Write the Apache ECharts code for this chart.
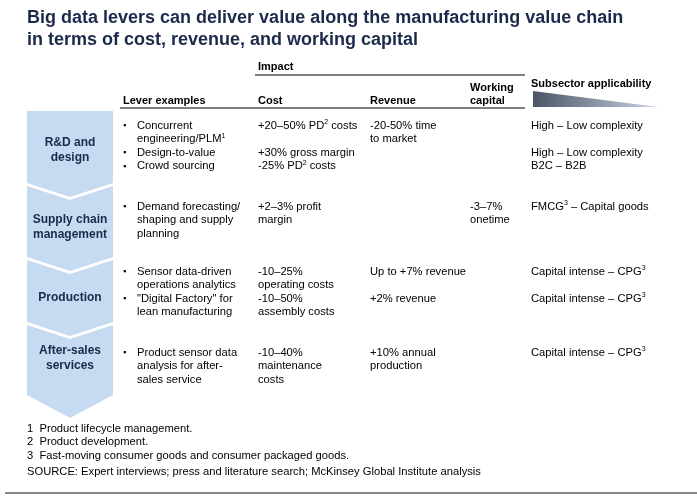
<!DOCTYPE html><html><head><meta charset="utf-8">
<script src="https://cdn.jsdelivr.net/npm/echarts@6/dist/echarts.min.js"></script>
<style>html,body{margin:0;background:#fff}#c{width:697px;height:501px}</style></head><body><div id="c"></div>
<script>
const title = "Big data levers can deliver value along the manufacturing value chain\nin terms of cost, revenue, and working capital";
const stages = ["R&D and\ndesign", "Supply chain\nmanagement", "Production", "After-sales\nservices"];
const headers = ["Lever examples", "Cost", "Revenue", "Working\ncapital", "Subsector applicability"];
const levers = [
  "Concurrent\nengineering/PLM{s|1}\nDesign-to-value\nCrowd sourcing",
  "Demand forecasting/\nshaping and supply\nplanning",
  "Sensor data-driven\noperations analytics\n\"Digital Factory\" for\nlean manufacturing",
  "Product sensor data\nanalysis for after-\nsales service"];
const bullets = ["▪\n\n▪\n▪", "▪", "▪\n\n▪", "▪"];
const cost = ["+20–50% PD{s|2} costs\n\n+30% gross margin\n-25% PD{s|2} costs", "+2–3% profit\nmargin",
  "-10–25%\noperating costs\n-10–50%\nassembly costs", "-10–40%\nmaintenance\ncosts"];
const revenue = ["-20-50% time\nto market", "", "Up to +7% revenue\n\n+2% revenue", "+10% annual\nproduction"];
const workingCapital = ["", "-3–7%\nonetime", "", ""];
const subsector = ["High – Low complexity\n\nHigh – Low complexity\nB2C – B2B", "FMCG{s|3} – Capital goods",
  "Capital intense – CPG{s|3}\n\nCapital intense – CPG{s|3}", "Capital intense – CPG{s|3}"];
const footnotes = ["1  Product lifecycle management.", "2  Product development.",
  "3  Fast-moving consumer goods and consumer packaged goods.",
  "SOURCE: Expert interviews; press and literature search; McKinsey Global Institute analysis"];

const F = 'Arial, "Liberation Sans", sans-serif';
const rich = {s:{fontSize:7, verticalAlign:'top', padding:[0,0,6,0], fill:'#000', fontFamily:F}};
const els = [];
function txt(x,y,t,o){els.push({type:'text',x,y,style:Object.assign({text:t,fill:'#000',font:'11.2px '+F,lineHeight:13.5,rich},o||{})});}
txt(27,7,title,{fill:'#1b2a4a',font:'bold 18px '+F,lineHeight:22});
txt(258,60,'Impact',{font:'bold 11px '+F});
els.push({type:'line',shape:{x1:255,y1:75,x2:525,y2:75},style:{stroke:'#000',lineWidth:1}});
els.push({type:'line',shape:{x1:120,y1:108,x2:525,y2:108},style:{stroke:'#000',lineWidth:1}});
const hx=[123,258,370,470,531], hy=[94,94,94,81,77];
headers.forEach((h,i)=>txt(hx[i],hy[i],h,{font:'bold 11px '+F,lineHeight:13}));
els.push({type:'polygon',shape:{points:[[533,91],[658,107],[533,107]]},style:{fill:new echarts.graphic.LinearGradient(0,0,1,0,[{offset:0,color:'#4a5566'},{offset:1,color:'#c8d4e4'}])}});
const seg=[[111,183],[186,257],[260,322],[325,395]];
const L=27,R=113,M=70;
seg.forEach(([t,b],i)=>{
  const pts = i===0?[[L,t],[R,t]]:[[L,t],[M,t+14],[R,t]];
  const tip = i===3?23:14;
  pts.push([R,b],[M,b+tip],[L,b]);
  els.push({type:'polygon',shape:{points:pts},style:{fill:'#c6daf2'}});
});
const labelY=[150,227,298,358];
stages.forEach((s,i)=>{const n=s.split('\n').length;
  els.push({type:'text',x:M,y:labelY[i]-n*7.5,style:{text:s,fill:'#1b2a4a',font:'bold 12px '+F,lineHeight:15,align:'center'}});});
const rowY=[119,200,265,346];
rowY.forEach((y,i)=>{
  txt(123,y,bullets[i],{font:'bold 9px '+F,lineHeight:13.5});
  txt(137,y,levers[i]);
  txt(258,y,cost[i]);
  txt(370,y,revenue[i]);
  txt(470,y,workingCapital[i]);
  txt(531,y,subsector[i]);
});
footnotes.forEach((f,i)=>txt(27,422+i*13.5+(i===3?2.5:0),f));
els.push({type:'line',shape:{x1:5,y1:493,x2:697,y2:493},style:{stroke:'#888',lineWidth:2}});
const chart=echarts.init(document.getElementById('c'));
chart.setOption({animation:false,graphic:{elements:els}});
</script></body></html>
